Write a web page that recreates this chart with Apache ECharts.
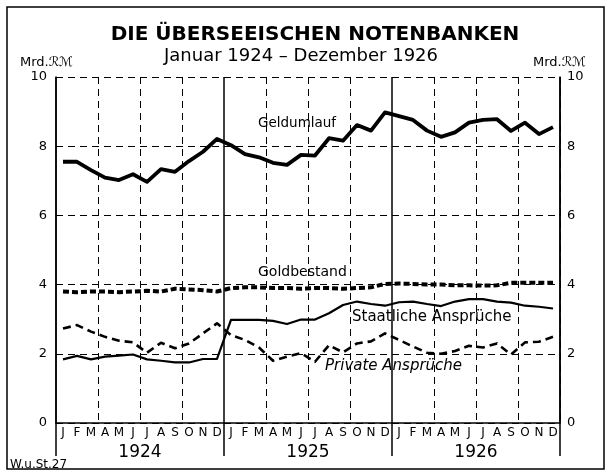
<!DOCTYPE html>
<html>
<head>
<meta charset="utf-8">
<script src="https://cdn.jsdelivr.net/npm/echarts@6/dist/echarts.min.js"></script>
<style>
  html, body { margin: 0; padding: 0; background: #fff; }
  #main { width: 608px; height: 474px; }
</style>
</head>
<body>
<div id="main"></div>
<script>
// Monate 1924-1926
var months = [];
var monthLetters = ['J', 'F', 'M', 'A', 'M', 'J', 'J', 'A', 'S', 'O', 'N', 'D'];
var years = ['1924', '1925', '1926'];
years.forEach(function () {
    monthLetters.forEach(function (m) { months.push(m); });
});

// Mrd. RM
var geldumlauf = [7.55, 7.55, 7.31, 7.09, 7.02, 7.19, 6.97, 7.34, 7.26, 7.57, 7.84, 8.21,
                  8.03, 7.77, 7.68, 7.52, 7.46, 7.75, 7.73, 8.23, 8.16, 8.61, 8.45, 8.98,
                  8.87, 8.76, 8.45, 8.27, 8.40, 8.68, 8.76, 8.78, 8.44, 8.68, 8.35, 8.55];
var goldbestand = [3.80, 3.78, 3.80, 3.80, 3.78, 3.80, 3.82, 3.80, 3.88, 3.86, 3.84, 3.80,
                   3.90, 3.92, 3.92, 3.90, 3.90, 3.88, 3.90, 3.90, 3.88, 3.90, 3.92, 4.02,
                   4.03, 4.02, 4.00, 4.00, 3.98, 3.98, 3.97, 3.98, 4.05, 4.05, 4.05, 4.05];
var staatlich = [1.84, 1.94, 1.84, 1.92, 1.95, 1.98, 1.84, 1.80, 1.75, 1.75, 1.85, 1.85,
                 2.98, 2.98, 2.98, 2.95, 2.86, 2.99, 2.99, 3.17, 3.41, 3.51, 3.44, 3.39,
                 3.49, 3.51, 3.44, 3.38, 3.51, 3.58, 3.58, 3.51, 3.48, 3.39, 3.36, 3.31];
var privat = [2.73, 2.83, 2.64, 2.49, 2.38, 2.33, 2.03, 2.32, 2.16, 2.30, 2.59, 2.88,
              2.54, 2.40, 2.18, 1.80, 1.92, 2.02, 1.77, 2.25, 2.04, 2.30, 2.36, 2.59,
              2.40, 2.21, 2.03, 2.00, 2.08, 2.23, 2.18, 2.30, 1.98, 2.33, 2.35, 2.49];

var font = 'DejaVu Sans';
var myChart = echarts.init(document.getElementById('main'));

function lineSeries(name, data, width, type) {
    return {
        name: name,
        type: 'line',
        data: data,
        symbol: 'none',
        silent: true,
        animation: false,
        lineStyle: { color: '#000', width: width, type: type, cap: 'butt', join: 'round' }
    };
}

function label(text, x, y, size, extra) {
    return {
        type: 'text', x: x, y: y, silent: true,
        style: {
            text: text, fill: '#000',
            font: (extra || '') + ' ' + size + 'px "' + font + '"',
            align: 'left', verticalAlign: 'middle'
        }
    };
}

myChart.setOption({
    backgroundColor: '#fff',
    animation: false,
    grid: { left: 56, right: 48, top: 77, bottom: 51 },
    xAxis: [
        {
            type: 'category',
            data: months,
            boundaryGap: true,
            axisLine: { lineStyle: { color: '#000', width: 1.5 } },
            axisTick: { inside: true, length: 4, interval: 0, lineStyle: { color: '#000' } },
            axisLabel: { interval: 0, margin: 4, color: '#000', fontSize: 12, fontFamily: font },
            splitLine: {
                show: true,
                interval: function (i) { return i % 3 === 0 && i % 12 !== 0; },
                lineStyle: { color: '#000', type: [7, 5], width: 1 }
            }
        },
        {
            type: 'category',
            data: years,
            position: 'bottom',
            boundaryGap: true,
            axisLine: { show: false },
            axisTick: { show: true, inside: false, length: 33, lineStyle: { color: '#000', width: 1.5 } },
            axisLabel: { margin: 21, color: '#000', fontSize: 17, fontFamily: font },
            splitLine: { show: true, lineStyle: { color: '#000', width: 1.5, type: 'solid' } }
        }
    ],
    yAxis: [
        {
            type: 'value',
            min: 0, max: 10, interval: 2,
            axisLine: { show: true, lineStyle: { color: '#000', width: 1.5 } },
            axisTick: { show: false },
            axisLabel: { margin: 9, color: '#000', fontSize: 13, fontFamily: font },
            splitLine: { lineStyle: { color: '#000', type: [7, 5], width: 1 } }
        },
        {
            type: 'value',
            position: 'right',
            min: 0, max: 10, interval: 2,
            axisLine: { show: true, lineStyle: { color: '#000', width: 1.5 } },
            axisTick: { show: false },
            axisLabel: { margin: 7, color: '#000', fontSize: 13, fontFamily: font },
            splitLine: { show: false }
        }
    ],
    series: [
        lineSeries('Geldumlauf', geldumlauf, 3.8, 'solid'),
        lineSeries('Goldbestand', goldbestand, 4, [6, 3]),
        lineSeries('Staatliche Ansprüche', staatlich, 2.2, 'solid'),
        lineSeries('Private Ansprüche', privat, 2.6, [8, 5])
    ],
    graphic: [
        { type: 'rect', silent: true, shape: { x: 7, y: 7, width: 597, height: 462 },
          style: { fill: null, stroke: '#000', lineWidth: 1.5 } },
        { type: 'text', x: 315, y: 35, silent: true,
          style: { text: 'DIE ÜBERSEEISCHEN NOTENBANKEN', fill: '#000', align: 'center',
                   verticalAlign: 'middle', font: 'bold 20px "' + font + '"' } },
        { type: 'text', x: 301, y: 56, silent: true,
          style: { text: 'Januar 1924 – Dezember 1926', fill: '#000', align: 'center',
                   verticalAlign: 'middle', font: '18px "' + font + '"' } },
        label('Mrd.ℛℳ', 20, 63, 13),
        label('Mrd.ℛℳ', 533, 63, 13),
        label('Geldumlauf', 258, 123, 13.5),
        label('Goldbestand', 258, 272, 14),
        label('Staatliche Ansprüche', 352, 317, 15),
        label('Private Ansprüche', 325, 366, 15, 'italic'),
        label('W.u.St.27', 10, 465, 12)
    ]
});
</script>
</body>
</html>
